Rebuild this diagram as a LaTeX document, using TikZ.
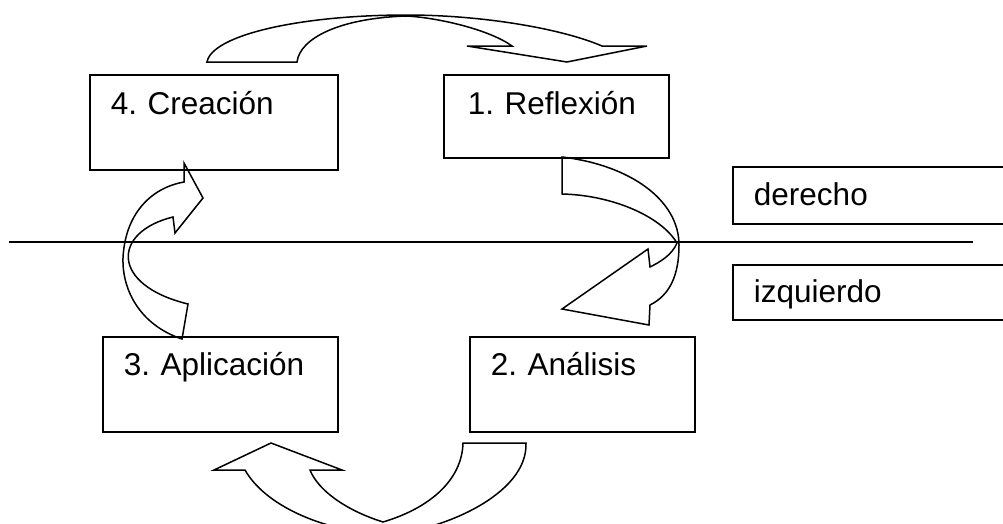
\documentclass[tikz,border=0pt]{standalone}
\usepackage{fontspec}
\setmainfont{Liberation Sans}
\frenchspacing
\usetikzlibrary{positioning}
\tikzset{
  phase/.style={draw, line width=1.9pt, anchor=north west, align=left,
                inner xsep=21pt, inner ysep=0pt, text height=40pt,
                text depth=55pt, font=\fontsize{31.5}{37}\selectfont},
  side/.style={phase, text width=300pt, text height=39pt, text depth=18pt},
  bendarrow/.style={draw, line width=1.5pt, line join=miter},
  axisline/.style={line width=1.7pt},
}
\begin{document}
\begin{tikzpicture}[x=1pt, y=-1pt]
\useasboundingbox (0,0) rectangle (1003,523);
\clip (0,0) rectangle (1003,523);

% ---- fases ----
\node[phase, text width=206pt] (crea) at (89,74) {4. Creación};
\node[phase, text width=177pt, inner xsep=24pt, text depth=43pt] (refl) at (443,74) {1. Reflexión};
\node[phase, text width=193pt, text height=39pt, text depth=56pt] (apli) at (102,336) {3. Aplicación};
\node[phase, text width=183pt, text height=39pt, text depth=56pt,
      right=130pt of apli] (anal) {2. Análisis};

% ---- hemisferios ----
\node[side] (der) at (732,166) {derecho};
\node[side, text height=38pt, text depth=17pt, below=39pt of der] (izq) {izquierdo};

\coordinate (axL) at (9,242);
\coordinate (axR) at (973,242);
\draw[axisline] (axL) -- (axR);

% ---- flechas curvas ----
% crea -> refl
\draw[bendarrow] (207,62) -- (297,62)
  .. controls (300,38) and (340,18) .. (407,16)
  .. controls (440,18) and (490,30) .. (512,46)
  -- (467,46) -- (567,62) -- (647,46) -- (602,46)
  .. controls (560,28) and (480,15) .. (407,15)
  .. controls (300,15) and (212,35) .. (207,62) -- cycle;
% refl -> anal
\draw[bendarrow] (562,157) -- (562,194)
  .. controls (610,195) and (660,215) .. (677,243)
  .. controls (672,255) and (660,262) .. (650,267)
  -- (648,249) -- (562,309) -- (649,325) -- (650,305)
  .. controls (670,295) and (679,275) .. (679,245)
  .. controls (679,200) and (630,165) .. (562,157) -- cycle;
% anal -> apli
\draw[bendarrow] (463,443) -- (526,443)
  .. controls (528,495) and (440,532) .. (383,535)
  .. controls (320,530) and (265,505) .. (245,470)
  -- (214,470) -- (271,443) -- (342,470) -- (310,470)
  .. controls (318,490) and (345,510) .. (383,522)
  .. controls (430,508) and (462,480) .. (463,443) -- cycle;
% apli -> crea
\draw[bendarrow] (182,339)
  .. controls (140,325) and (122,290) .. (123,258)
  .. controls (125,215) and (150,188) .. (184,182)
  -- (184,163) -- (203,198) -- (175,233) -- (173,217)
  .. controls (112,232) and (110,285) .. (188,304) -- cycle;

\end{tikzpicture}
\end{document}
